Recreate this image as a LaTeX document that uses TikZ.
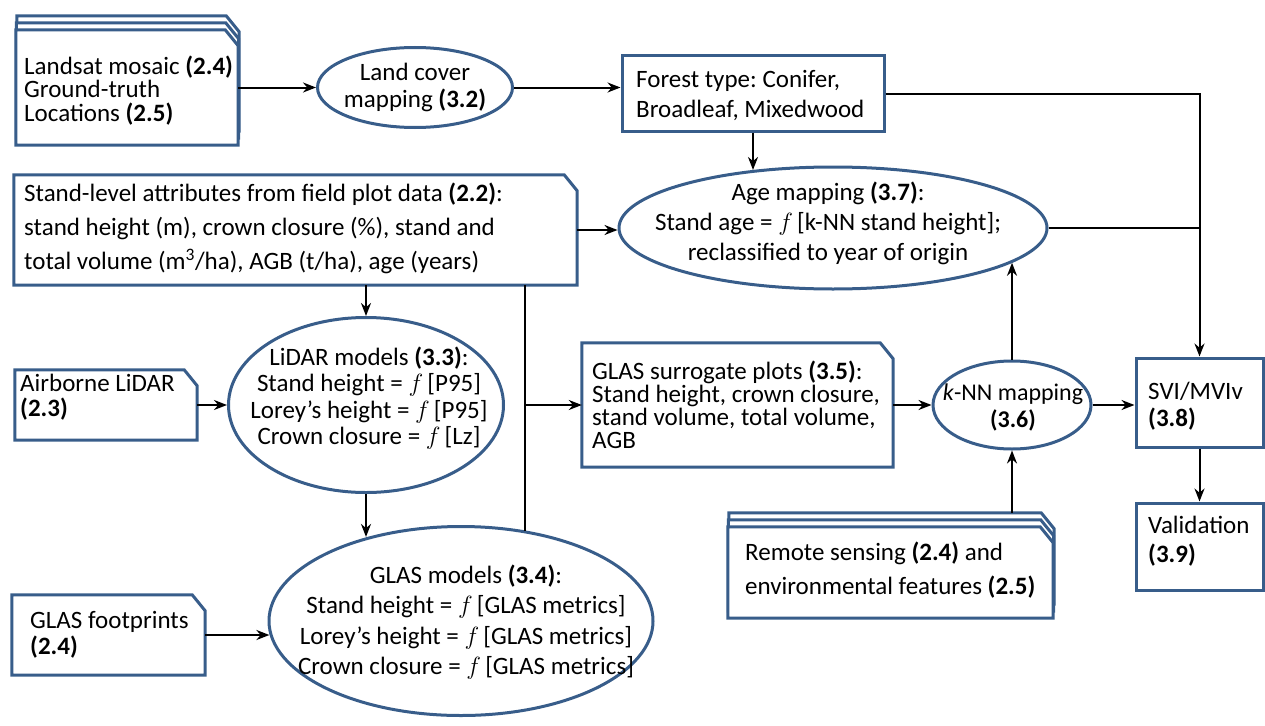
\documentclass[tikz,border=0pt]{standalone}
\usepackage{fontspec}
\setmainfont{Carlito}
\usetikzlibrary{arrows.meta,backgrounds,shapes.geometric}
\definecolor{boxblue}{RGB}{56,93,138}
\newcommand{\chx}{13pt}
\newcommand{\chy}{16pt}
\newcommand{\chbox}[3]{%
  \draw[boxline,fill=white] ([xshift=#2,yshift=#3]#1.south west) -- ([xshift=#2,yshift=#3]#1.south east)
   -- ([xshift=#2,yshift=#3-\chy]#1.north east) -- ([xshift=#2-\chx,yshift=#3]#1.north east)
   -- ([xshift=#2,yshift=#3]#1.north west) -- cycle;}
\frenchspacing
\begin{document}
\begin{tikzpicture}[x=1pt,y=-1pt,
  boxline/.style={draw=boxblue,line width=3pt,line join=miter},
  boxn/.style={rectangle,inner sep=0pt,draw=none},
  rbox/.style={rectangle,inner sep=0pt,boxline},
  ell/.style={ellipse,inner sep=0pt,boxline},
  txt/.style={inner sep=0pt,align=left,anchor=west,font=\fontsize{25}{#1}\selectfont},
  ctxt/.style={inner sep=0pt,align=center,font=\fontsize{25}{#1}\selectfont},
  arr/.style={-{Stealth[length=13pt,width=10pt]},line width=2pt},
  ln/.style={line width=2pt}]
\useasboundingbox (0,0) rectangle (1265,725);

% ---------- boxes ----------
\node[boxn,minimum width=222pt,minimum height=115pt] (land) at (127,87.5) {};
\node[txt=23.5pt] (landT) at (24,90.5) {Landsat mosaic \textbf{(2.4)}\\Ground-truth\\Locations \textbf{(2.5)}};

\node[ell,minimum width=195pt,minimum height=80pt] (landcover) at (415,87.5) {};
\node[ctxt=27pt] (landcoverT) at (415,87) {Land cover\\mapping \textbf{(3.2)}};

\node[rbox,minimum width=262pt,minimum height=75pt] (forest) at (753,93.5) {};
\node[txt=30pt] (forestT) at (636,95) {Forest type: Conifer,\\Broadleaf, Mixedwood};

\node[ell,minimum width=428pt,minimum height=122pt] (age) at (833,228) {};
\node[ctxt=30pt] (ageT) at (828,223) {Age mapping \textbf{(3.7)}:\\Stand age = $f$\,[k-NN stand height];\\reclassified to year of origin};

\node[boxn,minimum width=563pt,minimum height=110pt] (stand) at (295.5,230) {};
\node[txt=34pt] (standT) at (24,228) {Stand-level attributes from field plot data \textbf{(2.2)}:\\stand height (m), crown closure (\%), stand and\\total volume (m\textsuperscript{3}/ha), AGB (t/ha), age (years)};

\node[boxn,minimum width=182pt,minimum height=70pt] (airborne) at (106,405) {};
\node[txt=25pt] (airborneT) at (20,397) {Airborne LiDAR\\\textbf{(2.3)}};

\node[ell,minimum width=275pt,minimum height=175pt] (lidar) at (366,405) {};
\node[ctxt=26.5pt] (lidarT) at (369,398) {LiDAR models \textbf{(3.3)}:\\Stand height = $f$\,[P95]\\Lorey’s height = $f$\,[P95]\\Crown closure = $f$\,[Lz]};

\node[ell,minimum width=384pt,minimum height=189pt] (glasm) at (461,621) {};
\node[ctxt=30.5pt] (glasmT) at (466,622) {GLAS models \textbf{(3.4)}:\\Stand height = $f$\,[GLAS metrics]\\Lorey’s height = $f$\,[GLAS metrics]\\Crown closure = $f$\,[GLAS metrics]};

\node[boxn,minimum width=193pt,minimum height=80pt] (glasfoot) at (108.5,635) {};
\node[txt=26pt] (glasfootT) at (30,635) {GLAS footprints\\\textbf{(2.4)}};

\node[boxn,minimum width=311pt,minimum height=124pt] (surr) at (737.5,405) {};
\node[txt=23pt] (surrT) at (592,404.5) {GLAS surrogate plots \textbf{(3.5)}:\\Stand height, crown closure,\\stand volume, total volume,\\AGB};

\node[ell,minimum width=158pt,minimum height=88pt] (knn) at (1012,405) {};
\node[ctxt=27pt,font=\fontsize{24}{27}\selectfont] (knnT) at (1013,407.5) {\textit{k}-NN mapping\\\textbf{(3.6)}};

\node[boxn,minimum width=325pt,minimum height=91pt] (remote) at (890.5,572.5) {};
\node[txt=34pt] (remoteT) at (745,570) {Remote sensing \textbf{(2.4)} and\\environmental features \textbf{(2.5)}};

\node[rbox,minimum width=127pt,minimum height=89pt] (svi) at (1199.5,402.5) {};
\node[txt=27pt] (sviT) at (1148,406.5) {SVI/MVIv\\\textbf{(3.8)}};

\node[rbox,minimum width=127pt,minimum height=87pt] (val) at (1199.5,546.5) {};
\node[txt=29pt] (valT) at (1148,541.5) {Validation\\\textbf{(3.9)}};

% ---------- chamfered / stacked outlines ----------
\begin{pgfonlayer}{background}
  \chbox{land}{1pt}{14pt}
  \chbox{land}{0.5pt}{7pt}
  \chbox{land}{0pt}{0pt}
  \chbox{remote}{1pt}{14pt}
  \chbox{remote}{0.5pt}{7pt}
  \chbox{remote}{0pt}{0pt}
  \chbox{stand}{0pt}{0pt}
  \chbox{airborne}{0pt}{0pt}
  \chbox{glasfoot}{0pt}{0pt}
  \chbox{surr}{0pt}{0pt}
\end{pgfonlayer}

% ---------- connectors ----------
\draw[arr] (land.east) -- (landcover.west);
\draw[arr] (landcover.east) -- (landcover.east -| forest.west);
\draw[arr] (forest.east) -| (svi.north);
\draw[arr] (forest.south) -- (forest.south |- age.144.7);
\draw[arr] (stand.east) -- (stand.east -| age.west);
\draw[ln] (age.east) -- (age.east -| svi.north);
\draw[arr] (lidar.north |- stand.south) -- (lidar.north);
\coordinate (jn) at (525,405);
\draw[ln] (jn |- stand.south) -- (jn |- glasm.53.2);
\draw[arr] (jn) -- (jn -| surr.west);
\draw[arr] (airborne.east) -- (airborne.east -| lidar.west);
\draw[arr] (lidar.south) -- (lidar.south |- glasm.138.6);
\draw[arr] (glasfoot.east) -- (glasfoot.east -| glasm.184.55);
\draw[arr] (surr.east) -- (surr.east -| knn.west);
\draw[arr] (knn.north) -- (knn.north |- age.349.6);
\draw[arr] (knn.east) -- (knn.east -| svi.west);
\coordinate (rtop) at ([yshift=14pt]remote.north);
\draw[arr] (rtop -| knn.south) -- (knn.south);
\draw[arr] (svi.south) -- (val.north);
\end{tikzpicture}
\end{document}
